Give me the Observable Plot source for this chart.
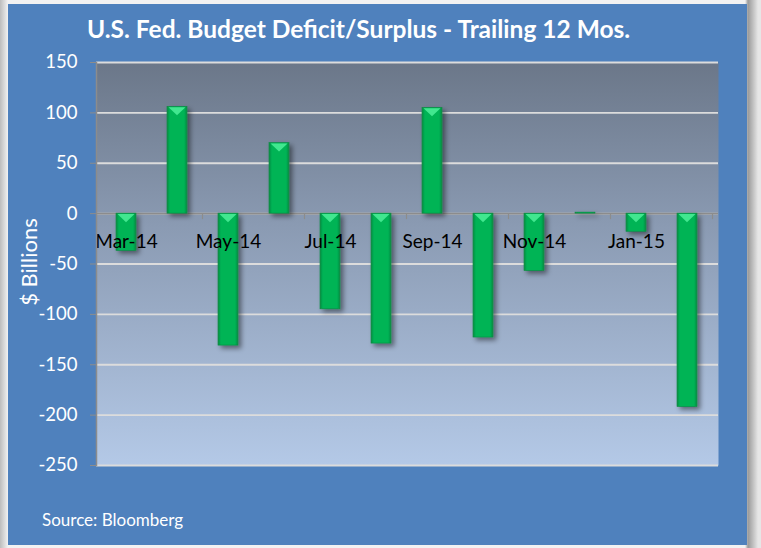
<!DOCTYPE html>
<html>
<head>
<meta charset="utf-8">
<script src="https://cdn.jsdelivr.net/npm/d3@7"></script>
<script src="https://cdn.jsdelivr.net/npm/@observablehq/plot@0.6"></script>
<style>
  body { margin: 0; }
  #wrap { position: relative; width: 761px; height: 548px; overflow: hidden;
    background: linear-gradient(90deg, #bdbdbd 0px, #f2f2f2 8px, #f2f2f2 745px, #9a9a9a 748px, #e6e6e6 758px); font-family: Lato, "Open Sans", sans-serif; }
  #panel { position: absolute; left: 8px; top: 4px; width: 739px; height: 541px; background: #4f81bd; }
  #chart { position: absolute; left: 0; top: 0; }
  #title { position: absolute; left: 87px; top: 14px; color: #fff; font-weight: bold; font-size: 24.5px; white-space: nowrap; }
  #ylab { position: absolute; left: 28px; top: 262px; color: #fff; font-size: 22px; transform: translate(-50%,-50%) rotate(-90deg); white-space: nowrap; }
  #src { position: absolute; left: 42px; top: 509px; color: #fff; font-size: 17px; }
</style>
</head>
<body>
<div id="wrap">
  <div id="panel"></div>
  <div id="chart"></div>
  <div id="title">U.S. Fed. Budget Deficit/Surplus - Trailing 12 Mos.</div>
  <div id="ylab">$ Billions</div>
  <div id="src">Source: Bloomberg</div>
</div>
<script>
const months = ["Mar-14","Apr-14","May-14","Jun-14","Jul-14","Aug-14","Sep-14","Oct-14","Nov-14","Dec-14","Jan-15","Feb-15"];
const values = [-37, 106, -131, 70, -95, -129, 105, -123, -57, 1, -18, -192];
const yTicks = [-250, -200, -150, -100, -50, 0, 50, 100, 150];
const labeledMonths = ["Mar-14","May-14","Jul-14","Sep-14","Nov-14","Jan-15"];

const data = months.map((m, i) => ({month: m, value: values[i]}));

// bevel on the top face of each bar
function bevels(index, scales) {
  const g = d3.create("svg:g");
  const bw = scales.x.bandwidth();
  for (const d of data) {
    const x0 = scales.x(d.month), x1 = x0 + bw, xc = x0 + bw / 2;
    const top = scales.y(Math.max(d.value, 0));
    const bot = scales.y(Math.min(d.value, 0));
    const h = bot - top;
    if (h < 3) continue;
    const dep = Math.min(9, h / 2);
    g.append("polygon")
      .attr("points", `${x0+1.5},${top+0.8} ${x1-1.5},${top+0.8} ${xc},${top+dep}`)
      .attr("fill", "#4cf09a").attr("fill-opacity", 0.85);
  }
  return g.node();
}

// category boundary ticks on the zero line (every 2 categories)
function zeroTicks(index, scales) {
  const g = d3.create("svg:g");
  const bw = scales.x.bandwidth();
  const step = scales.x.step();
  const y0 = scales.y(0);
  months.forEach((m, i) => {
    if (i % 2 === 0 && i > 0) {
      const xb = scales.x(m) - (step - bw) / 2;
      g.append("line").attr("x1", xb).attr("x2", xb).attr("y1", y0).attr("y2", y0 + 6)
        .attr("stroke", "#8c8c8c").attr("stroke-width", 1.2);
    }
  });
  const xe = scales.x(months[months.length - 1]) + bw + (step - bw) / 2;
  g.append("line").attr("x1", xe).attr("x2", xe).attr("y1", y0).attr("y2", y0 + 6)
    .attr("stroke", "#8c8c8c").attr("stroke-width", 1.2);
  return g.node();
}

const chart = Plot.plot({
  width: 761,
  height: 548,
  marginLeft: 96,
  marginRight: 43,
  marginTop: 62,
  marginBottom: 83,
  style: {background: "transparent", fontFamily: "Lato, 'Open Sans', sans-serif", overflow: "visible"},
  x: {domain: months, paddingInner: 0.6, paddingOuter: 0.3, axis: null},
  y: {domain: [-250, 150], axis: null, label: null},
  marks: [
    Plot.frame({fill: "url(#bgGrad)", stroke: null}),
    Plot.gridY(yTicks, {stroke: "#dcdcdc", strokeOpacity: 1, strokeWidth: 1.8}),
    Plot.ruleY([0], {stroke: "#8c8c8c", strokeWidth: 1.8}),
    zeroTicks,
    Plot.barY(data, {x: "month", y: "value", fill: "url(#barGrad)", stroke: "#0b8a40", strokeWidth: 0.6}),
    bevels,
    Plot.text(labeledMonths, {x: d => d, y: 0, dy: 28, text: d => d, fill: "#000", fontSize: 19}),
    Plot.axisY(yTicks, {label: null, tickSize: 6, tickPadding: 13, stroke: "#8c8c8c", fill: "#fff", fontSize: 18.5, tickFormat: d => d < 0 ? "-" + Math.abs(d) : String(d)}),
    Plot.frame({anchor: "left", stroke: "#8c8c8c", strokeWidth: 1.5})
  ]
});

const svg = d3.select(chart);
const defs = svg.insert("defs", ":first-child");
const bg = defs.append("linearGradient").attr("id", "bgGrad").attr("x1", 0).attr("y1", 0).attr("x2", 0).attr("y2", 1);
bg.append("stop").attr("offset", "0%").attr("stop-color", "#6b7789");
bg.append("stop").attr("offset", "40%").attr("stop-color", "#8a9ab2");
bg.append("stop").attr("offset", "100%").attr("stop-color", "#b4c9e7");
const bgr = defs.append("linearGradient").attr("id", "barGrad").attr("x1", 0).attr("y1", 0).attr("x2", 1).attr("y2", 0);
bgr.append("stop").attr("offset", "0%").attr("stop-color", "#0a8c44");
bgr.append("stop").attr("offset", "15%").attr("stop-color", "#00b455");
bgr.append("stop").attr("offset", "85%").attr("stop-color", "#00b455");
bgr.append("stop").attr("offset", "100%").attr("stop-color", "#0a8c44");
const f = defs.append("filter").attr("id", "shadow").attr("x", "-50%").attr("y", "-50%").attr("width", "200%").attr("height", "200%");
f.append("feDropShadow").attr("dx", 3).attr("dy", 3).attr("stdDeviation", 2.5).attr("flood-color", "#000").attr("flood-opacity", 0.45);
svg.selectAll("g[aria-label='bar']").attr("filter", "url(#shadow)");

document.getElementById("chart").appendChild(chart);
</script>
</body>
</html>
